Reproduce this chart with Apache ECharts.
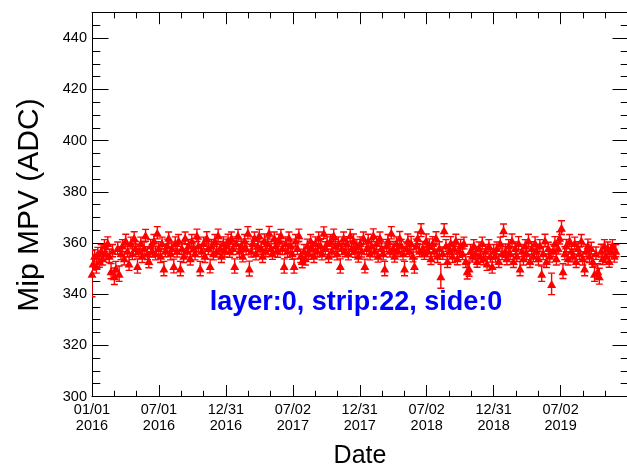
<!DOCTYPE html>
<html><head><meta charset="utf-8">
<script src="https://cdn.jsdelivr.net/npm/echarts@6.0.0/dist/echarts.min.js"></script>
<style>html,body{margin:0;padding:0;background:#fff;overflow:hidden}#c{width:627px;height:468px}</style>
</head><body><div id="c"></div>
<script>
// x = days since 2016-01-01
const d2016 = [0,3,7,12,16,20,25,29,34,38,43,47,52,56,61,65,70,74,79,83,88,92,97,101,106,110,115,119,124,128,133,137,142,146,151,155,160,164,169,173,178,182,187,191,196,200,205,209,214,218,223,227,232,236,241,245,250,254,259,263,268,272,277,281,286,290,295,299,304,308,313,317,322,326,331,335,340,344,349,353,358,362];
const v2016 = [348,352,355,351,356,353,357,354,359,356,360,355,349,357,347,350,358,348,356,359,354,361,357,352,360,356,362,358,351,357,360,355,358,363,356,353,359,357,361,356,364,358,355,360,350,357,359,362,356,358,351,360,357,361,350,358,355,362,357,359,354,361,358,356,363,359,350,357,360,355,362,358,351,359,356,361,357,363,358,355,360,357];
const e2016 = [9,2.6,2.4,2.8,2.3,2.5,2.4,2.6,2.3,2.5,2.4,2.6,3,2.4,3.2,2.8,2.4,3,2.5,2.3,2.6,2.4,2.5,2.7,2.3,2.5,2.4,2.6,2.8,2.4,2.3,2.6,2.4,2.3,2.5,2.7,2.4,2.5,2.3,2.6,2.4,2.5,2.6,2.3,2.8,2.4,2.5,2.3,2.6,2.4,2.7,2.4,2.5,2.3,2.8,2.4,2.6,2.3,2.5,2.4,2.6,2.3,2.5,2.6,2.4,2.5,2.8,2.4,2.3,2.6,2.4,2.5,2.7,2.4,2.6,2.3,2.5,2.4,2.5,2.6,2.4,2.5];

const d2017 = [366,371,375,380,384,389,393,398,402,407,411,416,420,425,429,434,438,443,447,452,456,461,465,470,474,479,483,488,492,497,501,506,510,515,519,524,528,533,537,542,546,551,555,560,564,569,573,578,582,587,591,596,600,605,609,614,618,623,627,632,636,641,645,650,654,659,663,668,672,677,681,686,690,695,699,704,708,713,717,722,726];
const v2017 = [359,361,357,362,358,351,360,363,357,359,355,361,358,364,350,357,360,362,356,359,363,358,355,361,357,360,364,358,356,362,359,357,361,363,358,351,360,357,362,359,356,351,361,358,363,355,353,357,354,359,356,361,358,355,360,357,362,359,356,364,358,360,355,361,357,363,359,356,360,351,358,362,357,360,356,363,358,361,357,359,355];
const e2017 = [2.5,2.4,2.6,2.3,2.5,2.8,2.4,2.3,2.6,2.5,2.4,2.3,2.6,2.4,2.9,2.5,2.4,2.3,2.6,2.5,2.3,2.4,2.6,2.5,2.4,2.3,2.5,2.6,2.4,2.3,2.5,2.6,2.4,2.3,2.5,2.8,2.4,2.6,2.3,2.5,2.4,2.8,2.3,2.5,2.4,2.6,2.7,2.4,2.6,2.5,2.4,2.3,2.5,2.6,2.4,2.5,2.3,2.4,2.6,2.3,2.5,2.4,2.6,2.3,2.5,2.4,2.3,2.6,2.4,2.8,2.5,2.3,2.4,2.5,2.6,2.3,2.4,2.5,2.6,2.4,2.5];

const d2018 = [731,735,740,744,749,753,758,762,767,771,776,780,785,789,794,798,803,807,812,816,821,825,830,834,839,843,848,852,857,861,866,870,875,879,884,888,893,897,902,906,911,915,920,924,929,933,938,942,947,951,956,960,965,969,974,978,983,987,992,996,1001,1005,1010,1014,1019,1023,1028,1032,1037,1041,1046,1050,1055,1059,1064,1068,1073,1077,1082,1086,1091,1095];
const v2018 = [360,357,362,351,358,361,356,359,363,357,360,355,362,358,356,350,359,361,357,364,358,355,360,357,362,359,356,350,358,361,357,360,355,351,359,362,357,365,358,356,361,357,359,354,360,357,362,355,358,347,356,365,359,353,357,360,355,358,361,354,357,359,356,360,353,349,350,357,355,359,356,353,358,355,360,354,357,352,359,355,351,357];
const e2018 = [2.4,2.5,2.3,2.7,2.5,2.4,2.6,2.3,2.5,2.4,2.6,2.5,2.3,2.4,2.6,2.8,2.4,2.3,2.5,2.4,2.6,2.5,2.4,2.3,2.5,2.4,2.6,2.8,2.4,2.5,2.3,2.6,2.4,2.8,2.5,2.3,2.4,2.5,2.6,2.4,2.5,2.3,2.6,2.4,2.5,2.3,2.4,2.6,2.5,4.7,2.4,2.5,2.3,2.6,2.4,2.5,2.6,2.3,2.4,2.5,2.6,2.4,2.5,2.3,2.6,3.1,3.0,2.4,2.5,2.3,2.6,2.5,2.4,2.6,2.3,2.5,2.4,2.7,2.3,2.5,2.8,2.4];

const d2019 = [1100,1104,1109,1113,1118,1122,1127,1131,1136,1140,1145,1149,1154,1158,1163,1167,1172,1176,1181,1185,1190,1194,1199,1203,1208,1212,1217,1221,1226,1230,1235,1239,1244,1248,1253,1257,1262,1266,1271,1275,1280,1284,1289,1293,1298,1302,1307,1311,1316,1320,1325,1329,1334,1338,1343,1347,1352,1356,1361,1365,1370,1374,1379,1383,1388,1392,1397,1401,1406,1410,1415,1419,1424,1428];
const v2019 = [355,358,353,360,356,365,357,354,359,356,361,353,358,355,360,350,357,354,359,356,361,353,358,355,360,357,354,359,348,356,361,353,358,355,344,357,360,354,358,362,366,349,356,359,354,361,357,355,360,353,358,356,361,354,350,357,359,355,358,353,348,356,349,347,357,354,359,355,358,353,357,359,355,357];
const e2019 = [2.5,2.4,2.6,2.3,2.5,2.4,2.6,2.5,2.3,2.4,2.5,2.6,2.4,2.3,2.5,2.8,2.4,2.6,2.3,2.5,2.4,2.6,2.5,2.3,2.4,2.5,2.6,2.3,3.0,2.5,2.4,2.6,2.3,2.5,4.2,2.4,2.5,2.6,2.3,2.4,2.7,2.9,2.5,2.4,2.6,2.3,2.5,2.4,2.3,2.6,2.5,2.4,2.3,2.6,2.8,2.4,2.5,2.6,2.3,2.5,3.0,2.4,2.9,3.1,2.5,2.4,2.3,2.6,2.4,2.5,2.4,2.3,2.5,2.4];

const xTickLabels = ['01/01\n2016','07/01\n2016','12/31\n2016','07/02\n2017','12/31\n2017','07/02\n2018','12/31\n2018','07/02\n2019'];
const yTickLabels = [300,320,340,360,380,400,420,440];
const xTitle = 'Date';
const yTitle = 'Mip MPV (ADC)';
const infoText = 'layer:0, strip:22, side:0';

const X_MIN = 0, X_MAX = 1464, X_STEP = 182.5;
const Y_MIN = 300, Y_MAX = 450, Y_STEP = 20;

const days = [].concat(d2016, d2017, d2018, d2019);
const mpv = [].concat(v2016, v2017, v2018, v2019);
const err = [].concat(e2016, e2017, e2018, e2019);
const rows = days.map((d, i) => [d, mpv[i], err[i]]);

const FONT = '"Liberation Sans", Arial, Helvetica, sans-serif';
const RED = '#ff0000';

function xFmt(v) {
  const k = Math.round(v / X_STEP);
  if (Math.abs(v - k * X_STEP) > 0.01) return '';
  return xTickLabels[k] || '';
}
function yFmt(v) {
  return yTickLabels.indexOf(v) >= 0 ? String(v) : '';
}
const noLine = { show: false };
function axisBase(extra) {
  return Object.assign({
    type: 'value', splitLine: { show: false }, axisLabel: { show: false },
    axisLine: { show: false, onZero: false, lineStyle: { color: '#000', width: 1 } }
  }, extra);
}
const xMin = X_MIN, xMax = X_MAX, yMin = Y_MIN, yMax = Y_MAX;

const chart = echarts.init(document.getElementById('c'), null, { renderer: 'canvas' });
chart.setOption({
  animation: false,
  backgroundColor: '#fff',
  grid: { left: 92, top: 12.7, width: 537, height: 383.8, containLabel: false, outerBoundsMode: 'none' },
  xAxis: [
    axisBase({ position: 'bottom', min: xMin, max: xMax, interval: X_STEP,
      axisLine: { show: true, onZero: false, lineStyle: { color: '#000', width: 1 } },
      axisTick: { inside: true, length: 11.5, lineStyle: { color: '#000' } },
      axisLabel: { show: true, formatter: xFmt, fontSize: 14.5, lineHeight: 16.5, margin: 5, color: '#000', fontFamily: FONT, hideOverlap: false, showMinLabel: true, showMaxLabel: true } }),
    axisBase({ position: 'bottom', min: xMin, max: xMax, interval: X_STEP / 3,
      axisTick: { inside: true, length: 5.7, lineStyle: { color: '#000' } } }),
    axisBase({ position: 'top', min: xMin, max: xMax, interval: X_STEP,
      axisLine: { show: true, onZero: false, lineStyle: { color: '#000', width: 1 } },
      axisTick: { inside: true, length: 11.5, lineStyle: { color: '#000' } } }),
    axisBase({ position: 'top', min: xMin, max: xMax, interval: X_STEP / 3,
      axisTick: { inside: true, length: 5.7, lineStyle: { color: '#000' } } })
  ],
  yAxis: [
    axisBase({ position: 'left', min: yMin, max: yMax, interval: Y_STEP,
      axisLine: { show: true, onZero: false, lineStyle: { color: '#000', width: 1 } },
      axisTick: { inside: true, length: 16.5, lineStyle: { color: '#000' } },
      axisLabel: { show: true, formatter: yFmt, fontSize: 14.5, margin: 5, color: '#000', fontFamily: FONT, hideOverlap: false, showMinLabel: true } }),
    axisBase({ position: 'left', min: yMin, max: yMax, interval: 5,
      axisTick: { inside: true, length: 8.3, lineStyle: { color: '#000' } } }),
    axisBase({ position: 'right', min: yMin, max: yMax, interval: Y_STEP,
      axisLine: { show: true, onZero: false, lineStyle: { color: '#000', width: 1 } },
      axisTick: { inside: true, length: 16.5, lineStyle: { color: '#000' } } }),
    axisBase({ position: 'right', min: yMin, max: yMax, interval: 5,
      axisTick: { inside: true, length: 8.3, lineStyle: { color: '#000' } } })
  ],
  series: [
    {
      type: 'custom', xAxisIndex: 0, yAxisIndex: 0, clip: true,
      encode: { x: 0, y: 1 },
      data: rows,
      renderItem: function (params, api) {
        const x = api.value(0), y = api.value(1), e = api.value(2);
        const c = api.coord([x, y]);
        const t = api.coord([x, y + e]);
        const b = api.coord([x, y - e]);
        const hw = 3.5;
        const st = { stroke: RED, lineWidth: 1.4 };
        return { type: 'group', children: [
          { type: 'line', shape: { x1: c[0], y1: t[1], x2: c[0], y2: b[1] }, style: st },
          { type: 'line', shape: { x1: c[0] - hw, y1: t[1], x2: c[0] + hw, y2: t[1] }, style: st },
          { type: 'line', shape: { x1: c[0] - hw, y1: b[1], x2: c[0] + hw, y2: b[1] }, style: st }
        ] };
      },
      z: 2
    },
    {
      type: 'scatter', xAxisIndex: 0, yAxisIndex: 0,
      data: rows.map(r => [r[0], r[1]]),
      symbol: 'triangle', symbolSize: [9, 8],
      itemStyle: { color: RED, opacity: 1 },
      z: 3
    }
  ],
  graphic: [
    { type: 'text', x: 30, y: 205, rotation: Math.PI / 2,
      style: { text: yTitle, fontSize: 30, fontFamily: FONT, fill: '#000', align: 'center', verticalAlign: 'middle' } },
    { type: 'text', x: 360, y: 456,
      style: { text: xTitle, fontSize: 25, fontFamily: FONT, fill: '#000', align: 'center', verticalAlign: 'middle' } },
    { type: 'text', x: 356, y: 303,
      style: { text: infoText, fontSize: 27, fontWeight: 'bold', fontFamily: FONT, fill: '#0000ff', align: 'center', verticalAlign: 'middle' } }
  ]
});
</script>
</body></html>
